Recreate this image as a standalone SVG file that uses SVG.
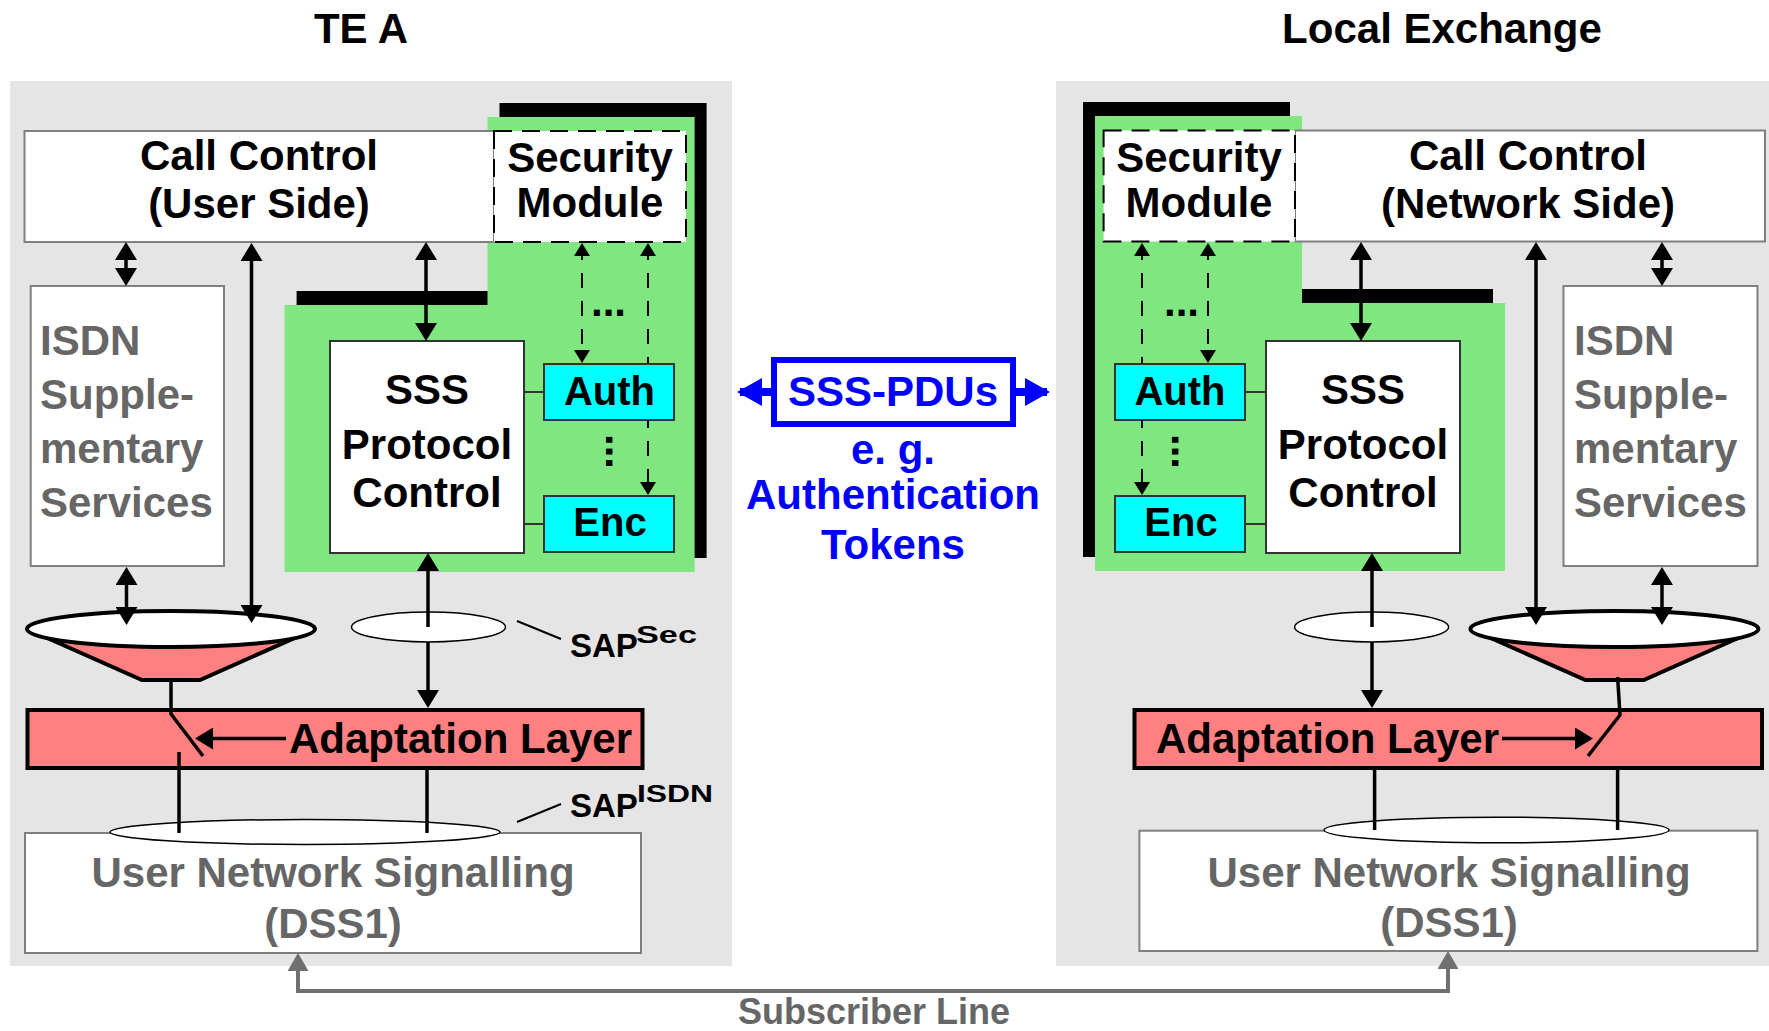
<svg xmlns="http://www.w3.org/2000/svg" width="1769" height="1031" viewBox="0 0 1769 1031">
  <style>
    .t { font-family: "Liberation Sans", Arial, Helvetica, sans-serif; font-weight: bold; font-size: 42px; fill: #000; }
    .c { text-anchor: middle; }
    .gt { fill: #666; }
    .bt { fill: #0000ff; }
    .panel { fill: #e5e5e5; }
    .box { fill: #fff; stroke: #7f7f7f; stroke-width: 2; }
    .dark { fill: #fff; stroke: #333; stroke-width: 2; }
    .sec { fill: #fff; stroke: #000; stroke-width: 2; stroke-dasharray: 18 10; }
    .mod { fill: #00ffff; stroke: #333; stroke-width: 2; }
    .green { fill: #80e680; }
    .shadow { fill: #000; }
    .pink { fill: #ff8080; stroke: #000; stroke-width: 4; }
    .sap { fill: #fff; stroke: #000; stroke-width: 1.5; }
    .sapbig { fill: #fff; stroke: #000; stroke-width: 4; }
    .ln { fill: none; stroke: #000; stroke-width: 3.5; }
    .thin { fill: none; stroke: #333; stroke-width: 2; }
    .lead { fill: none; stroke: #000; stroke-width: 2; }
    .arr { fill: none; stroke: #000; stroke-width: 3.5; marker-start: url(#ah); marker-end: url(#ah); }
    .arrEnd { fill: none; stroke: #000; stroke-width: 3.5; marker-end: url(#ah); }
    .darr { fill: none; stroke: #000; stroke-width: 2; stroke-dasharray: 15 13; marker-start: url(#ad); marker-end: url(#ad); }
    .barr { fill: none; stroke: #0000ff; stroke-width: 8; marker-end: url(#ab); }
    .garr { fill: none; stroke: #707070; stroke-width: 4; marker-start: url(#ag); marker-end: url(#ag); }
  </style>
  <defs>
    <marker id="ah" viewBox="0 0 18 22" refX="14" refY="11" markerWidth="18" markerHeight="22" markerUnits="userSpaceOnUse" orient="auto-start-reverse">
      <path d="M0,0 L18,11 L0,22 Z" fill="#000"/>
    </marker>
    <marker id="ad" viewBox="0 0 13 16" refX="11" refY="8" markerWidth="13" markerHeight="16" markerUnits="userSpaceOnUse" orient="auto-start-reverse">
      <path d="M0,0 L13,8 L0,16 Z" fill="#000"/>
    </marker>
    <marker id="ab" viewBox="0 0 25 28" refX="22" refY="14" markerWidth="25" markerHeight="28" markerUnits="userSpaceOnUse" orient="auto">
      <path d="M0,0 L25,14 L0,28 Z" fill="#0000ff"/>
    </marker>
    <marker id="ag" viewBox="0 0 18 21" refX="14" refY="10.5" markerWidth="18" markerHeight="21" markerUnits="userSpaceOnUse" orient="auto-start-reverse">
      <path d="M0,0 L18,10.5 L0,21 Z" fill="#707070"/>
    </marker>
  </defs>

  <!-- titles -->
  <text class="t c" x="361" y="43">TE A</text>
  <text class="t c" x="1442" y="43">Local Exchange</text>

  <!-- ===== terminal side ===== -->
  <rect id="panel-te" class="panel" x="10" y="81" width="722" height="885"/>

  <g id="sss-area-te">
    <polygon class="shadow" points="499.5,103 706.6,103 706.6,558 296.6,558 296.6,291 499.5,291"/>
    <polygon class="green" points="487.5,117 694.6,117 694.6,572 284.6,572 284.6,305 487.5,305"/>
  </g>

  <g id="call-control-user">
    <rect class="box" x="24.5" y="131" width="469.5" height="111"/>
    <text class="t c" x="259" y="170">Call Control</text>
    <text class="t c" x="259" y="218">(User Side)</text>
  </g>
  <g id="security-module-te">
    <rect class="sec" x="494" y="131" width="192" height="111"/>
    <text class="t c" x="590" y="172">Security</text>
    <text class="t c" x="590" y="217">Module</text>
  </g>
  <g id="isdn-ss-te">
    <rect class="box" x="30.7" y="286" width="193.3" height="280"/>
    <text class="t gt" x="40" y="355">ISDN</text>
    <text class="t gt" x="40" y="409">Supple-</text>
    <text class="t gt" x="40" y="463">mentary</text>
    <text class="t gt" x="40" y="517">Services</text>
  </g>
  <g id="sss-pc-te">
    <rect class="dark" x="330" y="341" width="194" height="212"/>
    <text class="t c" x="427" y="404">SSS</text>
    <text class="t c" x="427" y="459">Protocol</text>
    <text class="t c" x="427" y="507">Control</text>
  </g>

  <g id="links-te">
    <line class="thin" x1="524" y1="392" x2="544" y2="392"/>
    <line class="thin" x1="524" y1="524" x2="544" y2="524"/>
    <line class="darr" x1="582" y1="245" x2="582" y2="361"/>
    <line class="darr" x1="648" y1="245" x2="648" y2="493"/>
    <line class="arr" x1="426" y1="246" x2="426" y2="337"/>
    <line class="arr" x1="126" y1="246" x2="126" y2="282"/>
  </g>

  <g id="auth-te">
    <rect class="mod" x="544" y="364" width="130" height="56"/>
    <text class="t c" x="609.5" y="405" style="font-size:40px">Auth</text>
  </g>
  <g id="enc-te">
    <rect class="mod" x="544" y="496" width="130" height="56"/>
    <text class="t c" x="610" y="536" style="font-size:40px">Enc</text>
  </g>
  <text class="t" x="591" y="316">...</text>
  <text class="t" x="0" y="0" transform="translate(606,434) rotate(90)">...</text>

  <g id="funnel-te">
    <path class="pink" d="M27,629 L142,680 L200,680 L315,629 Z"/>
    <ellipse class="sapbig" cx="171" cy="629" rx="144" ry="18"/>
  </g>
  <g id="sap-sec-te">
    <ellipse class="sap" cx="428.5" cy="627" rx="77" ry="15"/>
  </g>
  <g id="links-te-lower">
    <line class="arr" x1="251.5" y1="247" x2="251.5" y2="619"/>
    <line class="arr" x1="126.5" y1="571" x2="126.5" y2="621"/>
    <line class="arrEnd" x1="428" y1="627" x2="428" y2="557"/>
    <line class="arrEnd" x1="428" y1="642" x2="428" y2="704"/>
  </g>

  <g id="adaptation-te">
    <rect class="pink" x="27.5" y="710" width="615" height="58"/>
    <text class="t" x="289" y="753">Adaptation Layer</text>
  </g>
  <g id="switch-te">
    <polyline class="ln" points="171,680 171,714 203,756"/>
    <line class="arrEnd" x1="286" y1="738.5" x2="199" y2="738.5"/>
  </g>

  <g id="dss1-te">
    <rect class="box" x="25" y="833" width="616" height="120"/>
    <ellipse class="sap" cx="305" cy="832" rx="195" ry="12.5"/>
    <line class="ln" x1="179" y1="752" x2="179" y2="833"/>
    <line class="ln" x1="427" y1="769" x2="427" y2="833"/>
    <text class="t c gt" x="333" y="887">User Network Signalling</text>
    <text class="t c gt" x="333" y="938">(DSS1)</text>
  </g>

  <g id="sap-labels">
    <line class="lead" x1="517" y1="621" x2="561" y2="639"/>
    <text class="t" x="570" y="657" style="font-size:33px">SAP</text>
    <text class="t" x="636" y="643" style="font-size:24px" textLength="61" lengthAdjust="spacingAndGlyphs">Sec</text>
    <line class="lead" x1="517" y1="822" x2="561" y2="804"/>
    <text class="t" x="570" y="817" style="font-size:33px">SAP</text>
    <text class="t" x="637" y="802" style="font-size:24px" textLength="76" lengthAdjust="spacingAndGlyphs">ISDN</text>
  </g>

  <!-- ===== exchange side ===== -->
  <rect id="panel-le" class="panel" x="1056" y="81" width="713" height="885"/>

  <g id="sss-area-le">
    <polygon class="shadow" points="1083,102 1290,102 1290,289 1493,289 1493,557 1083,557"/>
    <polygon class="green" points="1095,116 1302,116 1302,303 1505,303 1505,571 1095,571"/>
  </g>

  <g id="call-control-network">
    <rect class="box" x="1295" y="130.5" width="470" height="111"/>
    <text class="t c" x="1528" y="170">Call Control</text>
    <text class="t c" x="1528" y="218">(Network Side)</text>
  </g>
  <g id="security-module-le">
    <rect class="sec" x="1103.6" y="130.5" width="191.4" height="111"/>
    <text class="t c" x="1199" y="172">Security</text>
    <text class="t c" x="1199" y="217">Module</text>
  </g>
  <g id="isdn-ss-le">
    <rect class="box" x="1563.5" y="286" width="194" height="280"/>
    <text class="t gt" x="1574" y="355">ISDN</text>
    <text class="t gt" x="1574" y="409">Supple-</text>
    <text class="t gt" x="1574" y="463">mentary</text>
    <text class="t gt" x="1574" y="517">Services</text>
  </g>
  <g id="sss-pc-le">
    <rect class="dark" x="1266" y="341" width="194" height="212"/>
    <text class="t c" x="1363" y="404">SSS</text>
    <text class="t c" x="1363" y="459">Protocol</text>
    <text class="t c" x="1363" y="507">Control</text>
  </g>

  <g id="links-le">
    <line class="thin" x1="1245" y1="392" x2="1266" y2="392"/>
    <line class="thin" x1="1245" y1="524" x2="1266" y2="524"/>
    <line class="darr" x1="1142" y1="245" x2="1142" y2="493"/>
    <line class="darr" x1="1208" y1="245" x2="1208" y2="361"/>
    <line class="arr" x1="1361" y1="246" x2="1361" y2="337"/>
    <line class="arr" x1="1662" y1="246" x2="1662" y2="282"/>
  </g>

  <g id="auth-le">
    <rect class="mod" x="1115" y="364" width="130" height="56"/>
    <text class="t c" x="1180" y="405" style="font-size:40px">Auth</text>
  </g>
  <g id="enc-le">
    <rect class="mod" x="1115" y="496" width="130" height="56"/>
    <text class="t c" x="1181" y="536" style="font-size:40px">Enc</text>
  </g>
  <text class="t" x="1164" y="316">...</text>
  <text class="t" x="0" y="0" transform="translate(1171.5,434) rotate(90)">...</text>

  <g id="funnel-le">
    <path class="pink" d="M1470.4,629 L1585.5,680 L1643.8,680 L1758.4,629 Z"/>
    <ellipse class="sapbig" cx="1614.4" cy="629" rx="144" ry="18"/>
  </g>
  <g id="sap-sec-le">
    <ellipse class="sap" cx="1371.6" cy="627" rx="77" ry="15"/>
  </g>
  <g id="links-le-lower">
    <line class="arr" x1="1536" y1="246" x2="1536" y2="621"/>
    <line class="arr" x1="1662" y1="571" x2="1662" y2="621"/>
    <line class="arrEnd" x1="1372" y1="627" x2="1372" y2="557"/>
    <line class="arrEnd" x1="1372" y1="642" x2="1372" y2="704"/>
  </g>

  <g id="adaptation-le">
    <rect class="pink" x="1134.5" y="710" width="627.5" height="58"/>
    <text class="t" x="1156" y="753">Adaptation Layer</text>
  </g>
  <g id="switch-le">
    <polyline class="ln" points="1617.6,677 1620,715 1588,756"/>
    <line class="arrEnd" x1="1502" y1="738.5" x2="1589" y2="738.5"/>
  </g>

  <g id="dss1-le">
    <rect class="box" x="1139.4" y="830.7" width="618" height="120.3"/>
    <ellipse class="sap" cx="1496.5" cy="830" rx="172.5" ry="12.8"/>
    <line class="ln" x1="1374.6" y1="769" x2="1374.6" y2="830"/>
    <line class="ln" x1="1617.6" y1="769" x2="1617.6" y2="830"/>
    <text class="t c gt" x="1449" y="887">User Network Signalling</text>
    <text class="t c gt" x="1449" y="937">(DSS1)</text>
  </g>

  <!-- peer-to-peer exchange of security PDUs -->
  <g id="sss-pdus">
    <line class="barr" x1="774" y1="392" x2="740" y2="392"/>
    <line class="barr" x1="1013" y1="392" x2="1047" y2="392"/>
    <rect x="774" y="360" width="239" height="64" fill="#fff" stroke="#0000ff" stroke-width="6"/>
    <text class="t c bt" x="893" y="406">SSS-PDUs</text>
    <text class="t c bt" x="893" y="464">e. g.</text>
    <text class="t c bt" x="893" y="509">Authentication</text>
    <text class="t c bt" x="893" y="559">Tokens</text>
  </g>

  <!-- subscriber line -->
  <g id="subscriber-line">
    <path class="garr" d="M298,957 V991 H1448 V955"/>
    <text class="t c gt" x="874" y="1024" style="font-size:36px">Subscriber Line</text>
  </g>
</svg>
